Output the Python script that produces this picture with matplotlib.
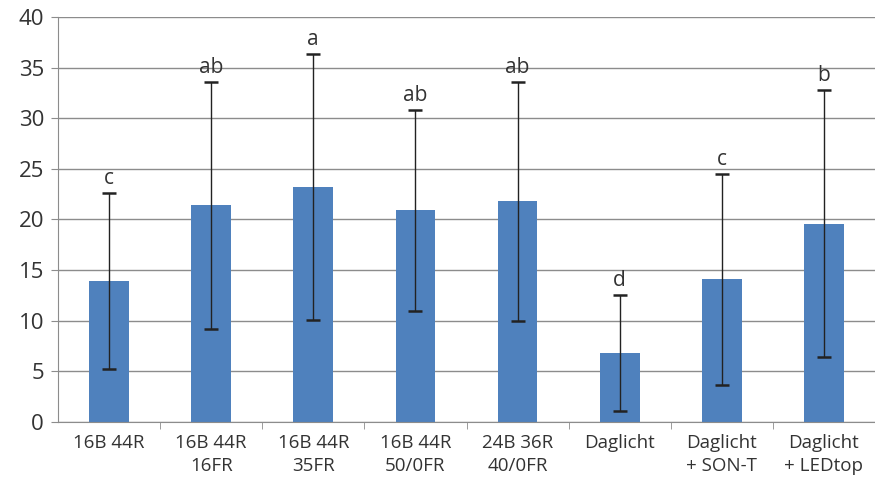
import matplotlib.pyplot as plt
import numpy as np

categories = ["16B 44R", "16B 44R\n16FR", "16B 44R\n35FR", "16B 44R\n50/0FR",
              "24B 36R\n40/0FR", "Daglicht", "Daglicht\n+ SON-T", "Daglicht\n+ LEDtop"]
values = [13.9, 21.4, 23.2, 20.9, 21.8, 6.8, 14.1, 19.6]
errors = [8.7, 12.2, 13.1, 9.9, 11.8, 5.7, 10.4, 13.2]
letters = ["c", "ab", "a", "ab", "ab", "d", "c", "b"]

plt.rcParams["font.family"] = ["Open Sans", "DejaVu Sans"]

fig = plt.figure(figsize=(8.75, 5), dpi=100)
ax = fig.add_axes([58 / 875, 1 - 422 / 500, 1 - 58 / 875, (422 - 17) / 500])

x = np.arange(len(categories))
ax.bar(x, values, width=0.39, color="#4F81BD", zorder=2)
ax.errorbar(x, values, yerr=errors, fmt="none", ecolor="#222222", elinewidth=1,
            capsize=5, capthick=1.8, zorder=3)
for xi, v, e, lab in zip(x, values, errors, letters):
    ax.text(xi, v + e + 0.4, lab, ha="center", va="bottom", fontsize=15, color="#333333")

ax.set_xlim(-0.5, len(categories) - 0.5)
ax.set_ylim(0, 40)
ax.set_yticks(range(0, 41, 5))
ax.yaxis.grid(True, color="#8c8c8c", linewidth=1, zorder=0)
ax.set_axisbelow(True)

ax.set_xticks(x)
ax.set_xticklabels(categories, fontsize=13.5, color="#333333", linespacing=1.3)
ax.tick_params(axis="x", length=0, pad=9)
ax.set_xticks(np.arange(0.5, len(categories) - 0.5, 1), minor=True)
ax.tick_params(axis="x", which="minor", length=5, color="#8c8c8c")
ax.tick_params(axis="y", labelsize=16, length=5, color="#8c8c8c", labelcolor="#333333", pad=5)

for s in ["top", "right"]:
    ax.spines[s].set_visible(False)
ax.spines["left"].set_color("#8c8c8c")
ax.spines["bottom"].set_color("#8c8c8c")

fig.savefig("out.png")
